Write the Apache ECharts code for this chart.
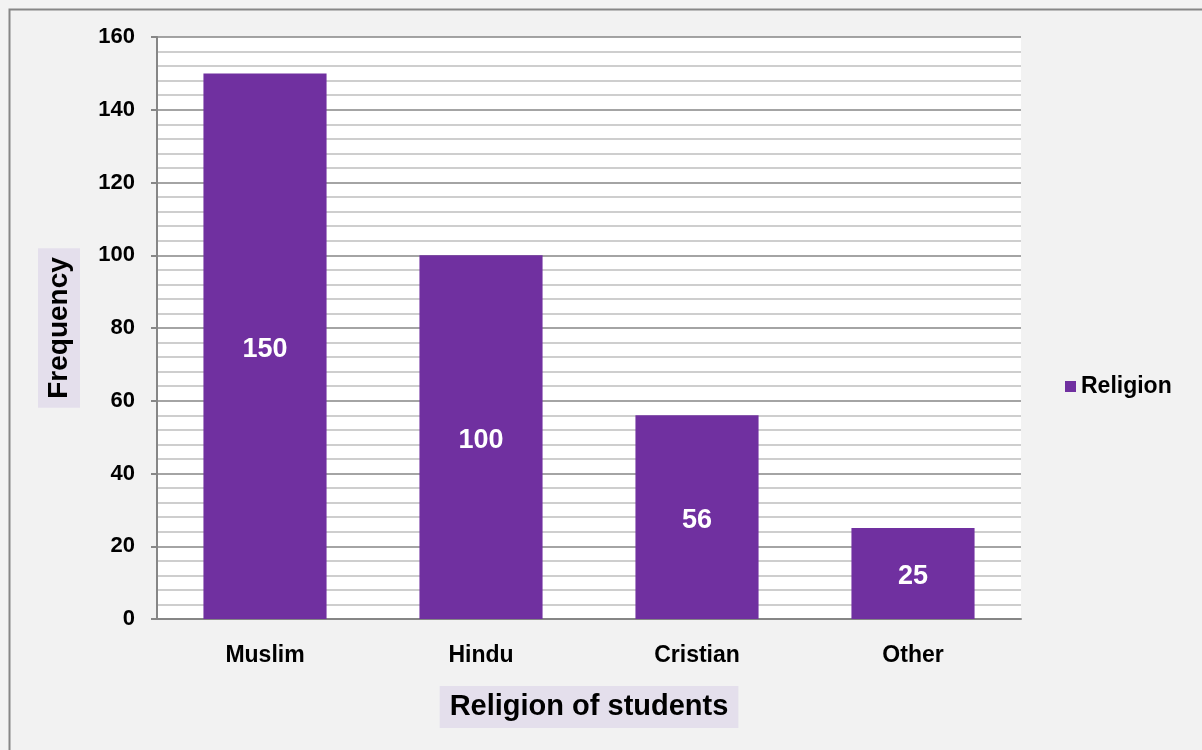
<!DOCTYPE html>
<html>
<head>
<meta charset="utf-8">
<script src="https://cdn.jsdelivr.net/npm/echarts@6/dist/echarts.min.js"></script>
<style>
html,body{margin:0;padding:0;background:#f2f2f2;}
#chart{width:1202px;height:750px;}
</style>
</head>
<body>
<div id="chart"></div>
<script>
const categories = ["Muslim", "Hindu", "Cristian", "Other"];
const religionValues = [150, 100, 56, 25];
const seriesName = "Religion";
const xAxisTitle = "Religion of students";
const yAxisTitle = "Frequency";

const chart = echarts.init(document.getElementById('chart'));
const font = '"Liberation Sans", Arial, sans-serif';
chart.setOption({
  backgroundColor: '#f2f2f2',
  animation: false,
  graphic: [{
    type: 'rect', left: 7, top: 7,
    shape: { width: 1220, height: 780 },
    style: { fill: 'none', stroke: '#868686', lineWidth: 2 },
    z: -1
  }],
  grid: { left: 157, right: 181, top: 37, bottom: 131, backgroundColor: '#ffffff', show: true, borderWidth: 0 },
  legend: {
    data: [seriesName], left: 1060, top: 370,
    icon: 'rect', itemWidth: 11, itemHeight: 11, itemGap: 6,
    textStyle: { fontFamily: font, fontWeight: 'bold', fontSize: 23, color: '#000' }
  },
  xAxis: {
    type: 'category', data: categories,
    axisLine: { lineStyle: { color: '#868686', width: 2 } },
    axisTick: { show: false },
    axisLabel: { margin: 25, fontFamily: font, fontWeight: 'bold', fontSize: 23, color: '#000' },
    name: xAxisTitle, nameLocation: 'middle', nameGap: 67,
    nameTextStyle: { fontFamily: font, fontWeight: 'bold', fontSize: 29, color: '#000', backgroundColor: '#e4dfec', padding: [6, 10, 7, 10] }
  },
  yAxis: {
    type: 'value', min: 0, max: 160, interval: 20,
    axisLine: { show: true, lineStyle: { color: '#868686', width: 2 } },
    axisTick: { show: true, length: 6, lineStyle: { color: '#868686', width: 2 } },
    axisLabel: { margin: 22, fontFamily: font, fontWeight: 'bold', fontSize: 22, color: '#000' },
    splitLine: { show: true, lineStyle: { color: '#868686', width: 1.5 } },
    minorTick: { show: false, splitNumber: 5 },
    minorSplitLine: { show: true, lineStyle: { color: '#bfbfbf', width: 1.5 } },
    name: yAxisTitle, nameLocation: 'middle', nameGap: 77, nameRotate: 90,
    nameTextStyle: { fontFamily: font, fontWeight: 'bold', fontSize: 28, color: '#000', backgroundColor: '#e4dfec', padding: [7, 9, 7, 9] }
  },
  series: [{
    name: seriesName, type: 'bar', data: religionValues,
    barWidth: '57%',
    itemStyle: { color: '#7030a0' },
    label: { show: true, position: 'inside', offset: [0, 3], fontFamily: font, fontWeight: 'bold', fontSize: 27, color: '#fff' }
  }]
});
</script>
</body>
</html>
